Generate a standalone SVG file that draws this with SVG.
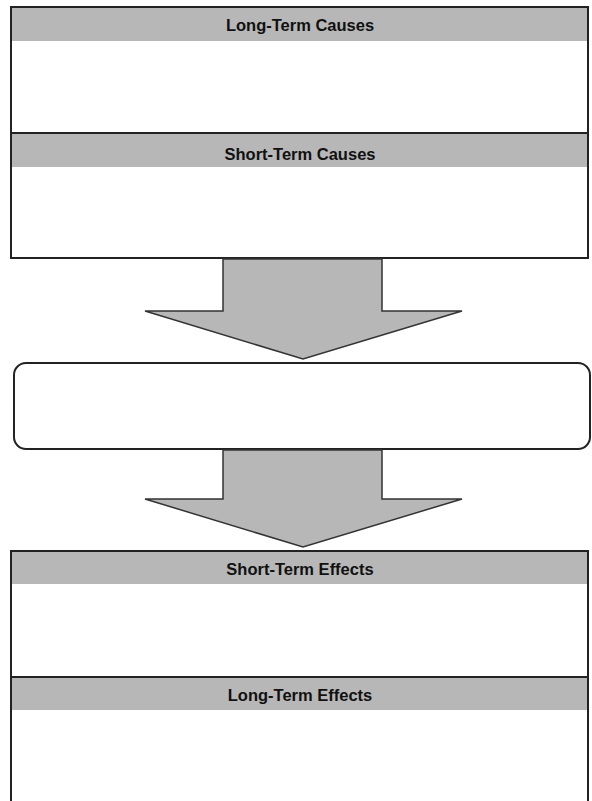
<svg xmlns="http://www.w3.org/2000/svg" width="592" height="801" viewBox="0 0 592 801">
<style>
.hdr{fill:#b7b7b7;stroke:none}
.box{fill:none;stroke:#222;stroke-width:2}
.lbl{font-family:"Liberation Sans",Arial,sans-serif;font-weight:bold;font-size:16.5px;fill:#111;text-anchor:middle}
.arrow{fill:#b7b7b7;stroke:#333;stroke-width:1.5;stroke-linejoin:miter}
</style>
<rect width="592" height="801" fill="#fff"/>
<g id="long-term-causes">
<rect class="hdr" x="11" y="7" width="577" height="34"/>
<rect class="box" x="11" y="7" width="577" height="126"/>
<text class="lbl" x="300" y="31">Long-Term Causes</text>
</g>
<g id="short-term-causes">
<rect class="hdr" x="11" y="134" width="577" height="33"/>
<rect class="box" x="11" y="133" width="577" height="125"/>
<text class="lbl" x="300" y="160">Short-Term Causes</text>
</g>
<g id="event">
<rect class="box" x="14" y="363" width="576" height="86" rx="12" ry="12" fill="#fff"/>
</g>
<g id="short-term-effects">
<rect class="hdr" x="11" y="551" width="577" height="33"/>
<rect class="box" x="11" y="551" width="577" height="126"/>
<text class="lbl" x="300" y="575">Short-Term Effects</text>
</g>
<g id="long-term-effects">
<rect class="hdr" x="11" y="678" width="577" height="32"/>
<path class="box" d="M11,677 H588 M11,677 V802 M588,677 V802"/>
<text class="lbl" x="300" y="701">Long-Term Effects</text>
</g>
<g id="connectors">
<polygon class="arrow" points="223,259 382,259 382,311 462,311 303,359 145,311 223,311"/>
<polygon class="arrow" points="223,450 382,450 382,499 462,499 303,547 145,499 223,499"/>
</g>
</svg>
